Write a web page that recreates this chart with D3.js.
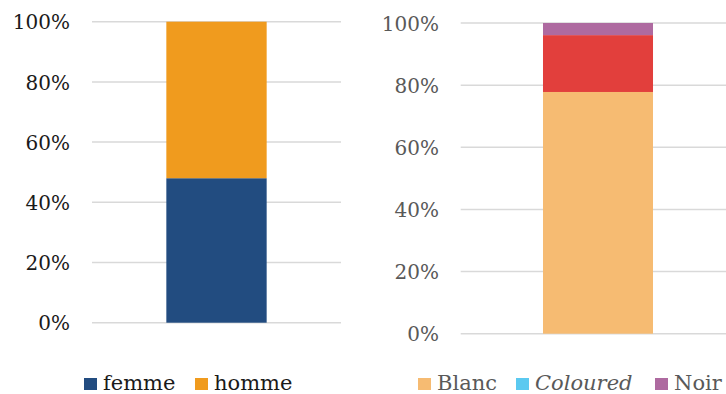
<!DOCTYPE html>
<html>
<head>
<meta charset="utf-8">
<script src="https://cdn.jsdelivr.net/npm/d3@7"></script>
<style>
  html, body { margin: 0; padding: 0; background: #fff; }
  svg { display: block; }
</style>
</head>
<body>
<svg id="chart" width="726" height="394"></svg>
<script>
// Share tick labels (fractions of the whole)
const tickValues = [0, 0.2, 0.4, 0.6, 0.8, 1];

// Left panel: sex
const sexSeries = ["femme", "homme"];
const sexValues = [0.48, 0.52];
const sexColors = ["#224c80", "#f09b1e"];

// Right panel: population group
const raceSegments = ["Blanc", "Coloured", "Noir"];
const raceValues = [0.778, 0.183, 0.039];
const raceColors = ["#f6bb72", "#e23f3c", "#ae6aa0"];
const raceLegend = ["Blanc", "Coloured", "Noir"];
const raceLegendColors = ["#f6bb72", "#5bc9f0", "#ae6aa0"];

const svg = d3.select("#chart");
const fmt = d3.format(".0%");

function panel(opts) {
  const g = svg.append("g");
  const y = d3.scaleLinear().domain([0, 1]).range([opts.y0, opts.y1]);
  const x = d3.scaleBand().domain(["all"]).range([opts.gx0, opts.plotX1])
    .paddingInner(0).paddingOuter(opts.pad);

  // horizontal gridlines
  g.append("g").selectAll("line").data(tickValues).join("line")
    .attr("x1", opts.gx0).attr("x2", opts.gx1)
    .attr("y1", d => y(d)).attr("y2", d => y(d))
    .attr("stroke", "#d9d9d9").attr("stroke-width", 1.5);

  // y axis labels
  const axis = d3.axisLeft(y).tickValues(tickValues).tickFormat(fmt).tickSize(0).tickPadding(0);
  const ax = g.append("g").attr("transform", `translate(${opts.labelX},0)`).call(axis);
  ax.select(".domain").remove();
  ax.selectAll("text")
    .attr("font-family", "DejaVu Serif")
    .attr("font-size", 20)
    .attr("fill", opts.textColor)
    .attr("dy", "0.36em");

  // stacked segments
  const row = {};
  opts.keys.forEach((k, i) => row[k] = opts.values[i]);
  const stacked = d3.stack().keys(opts.keys)([row]);
  g.append("g").selectAll("rect").data(stacked).join("rect")
    .attr("x", x("all"))
    .attr("width", x.bandwidth())
    .attr("y", d => y(d[0][1]))
    .attr("height", d => y(d[0][0]) - y(d[0][1]))
    .attr("fill", (d, i) => opts.colors[i]);

  // legend
  const lg = g.append("g");
  opts.legend.forEach((name, i) => {
    const lx = opts.legendX[i];
    lg.append("rect")
      .attr("x", lx).attr("y", opts.legendY - 12)
      .attr("width", 13).attr("height", 12)
      .attr("fill", opts.legendColors[i]);
    lg.append("text")
      .attr("x", lx + 19).attr("y", opts.legendY)
      .attr("font-family", "DejaVu Serif")
      .attr("font-size", 21)
      .attr("fill", opts.textColor)
      .attr("font-style", opts.italic && opts.italic.includes(name) ? "italic" : "normal")
      .text(name);
  });
}

panel({
  y0: 322.7, y1: 21.7, gx0: 92, gx1: 341, plotX1: 341, pad: 0.741,
  labelX: 70, textColor: "#1a1a1a",
  keys: sexSeries, values: sexValues, colors: sexColors,
  legend: sexSeries, legendColors: sexColors,
  legendX: [84, 195], legendY: 390
});

panel({
  y0: 333.7, y1: 23, gx0: 460.7, gx1: 726, plotX1: 735.3, pad: 0.748,
  labelX: 439, textColor: "#595959",
  keys: raceSegments, values: raceValues, colors: raceColors,
  legend: raceLegend, legendColors: raceLegendColors, italic: ["Coloured"],
  legendX: [418, 516, 655], legendY: 390
});
</script>
</body>
</html>
